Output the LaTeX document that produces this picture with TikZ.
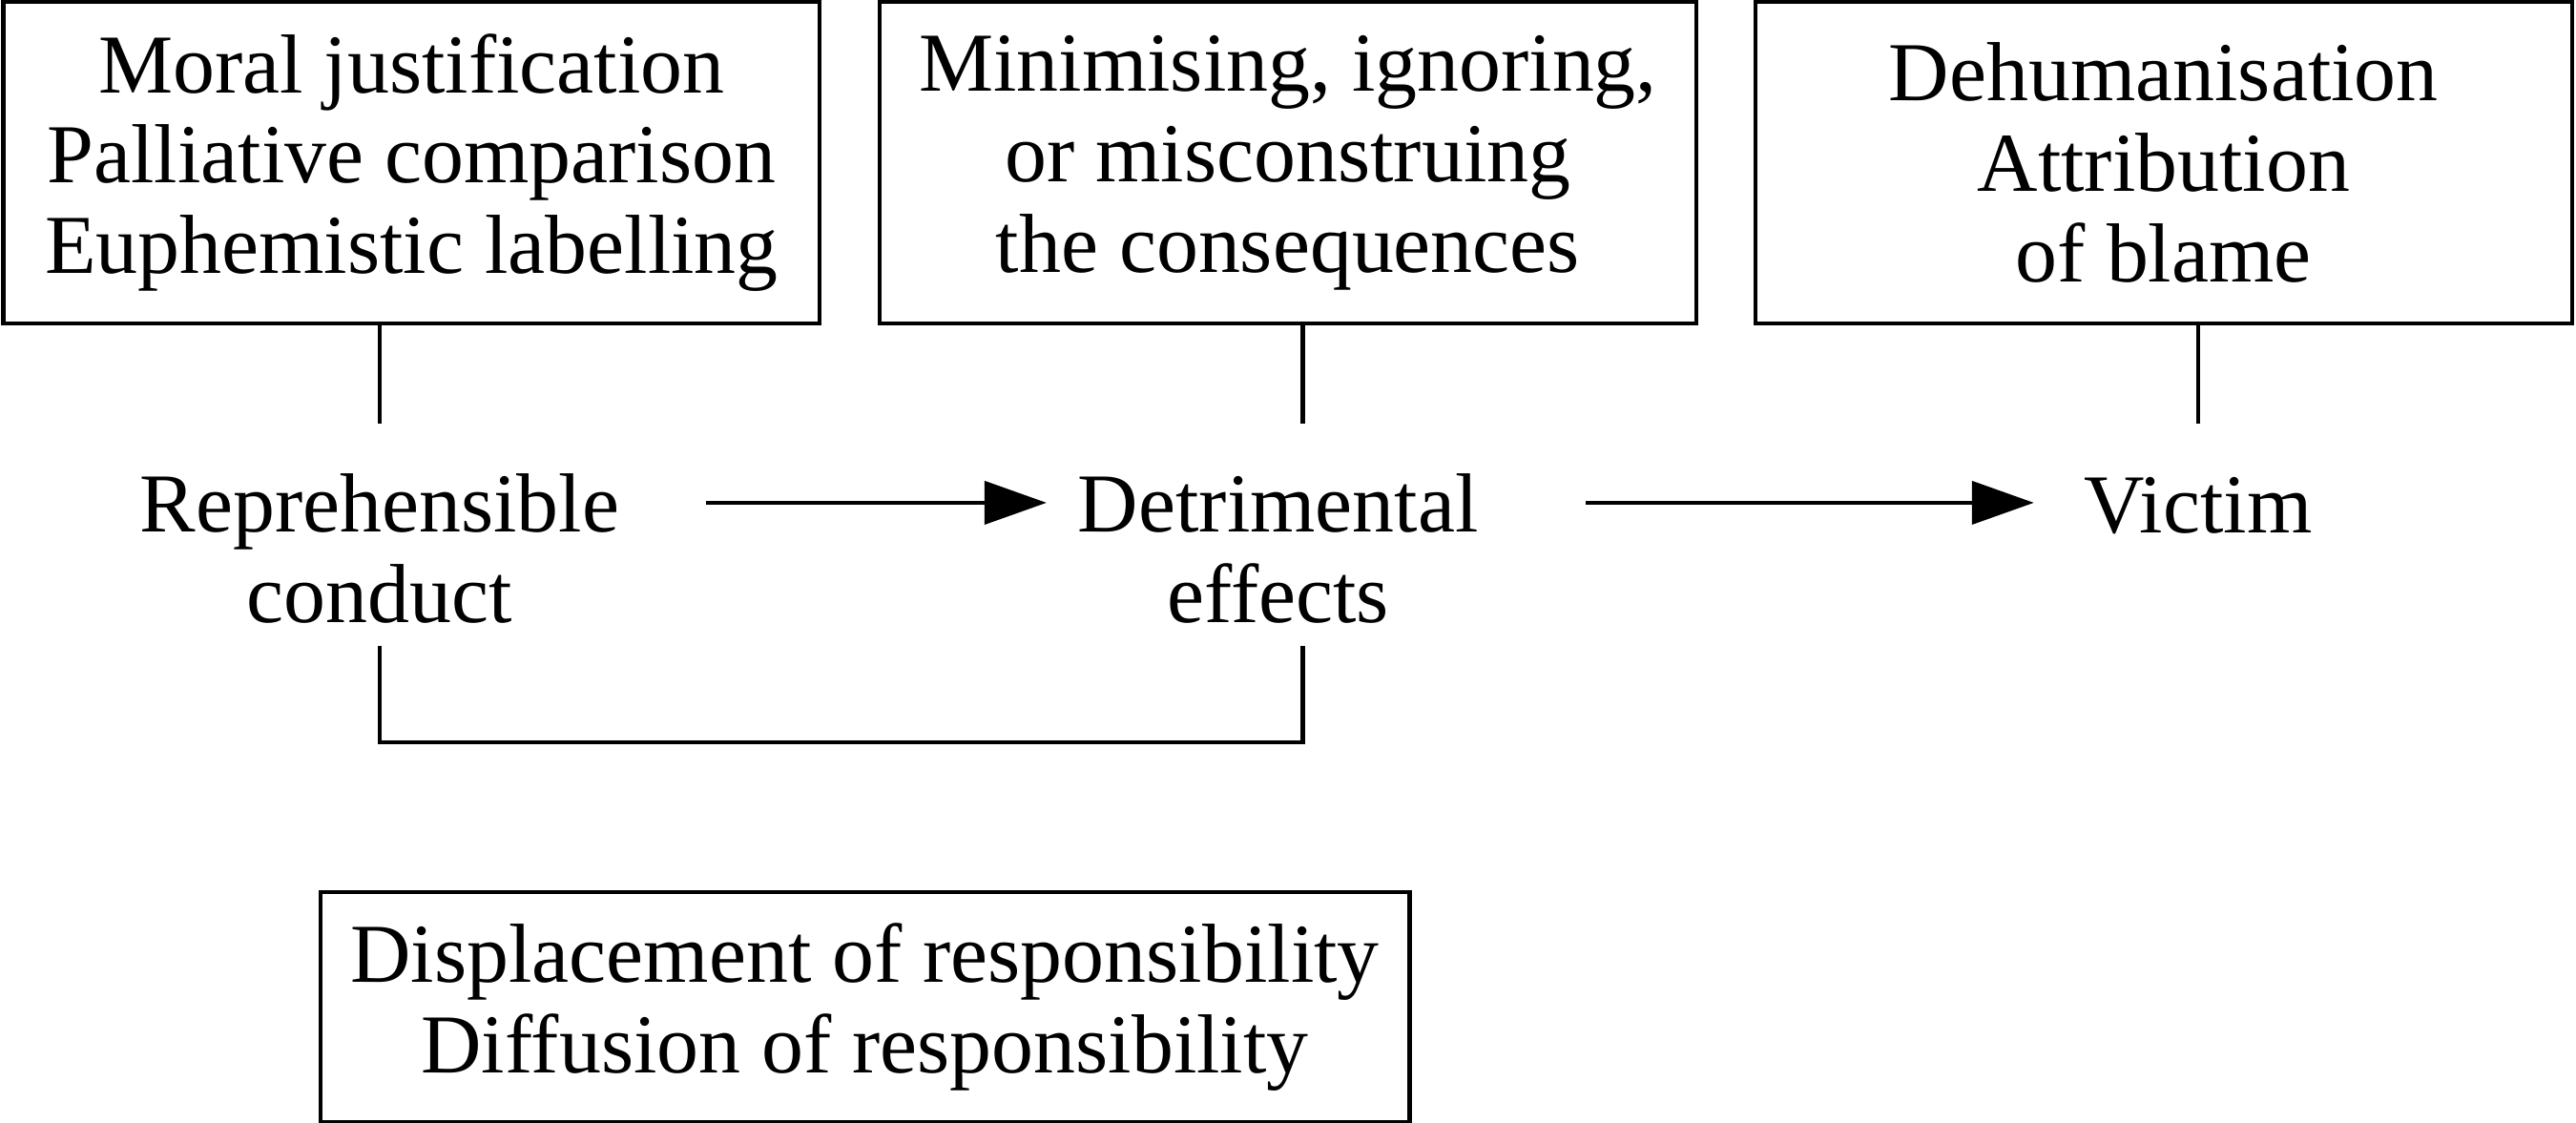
\documentclass[tikz,border=0pt]{standalone}
\usepackage{fontspec}
\setmainfont{Liberation Serif}
\usetikzlibrary{arrows.meta}
\tikzset{
  mechbox/.style={draw, line width=1.2pt, minimum width=497\px, minimum height=196\px, align=center, inner sep=0pt},
  stage/.style={align=center, inner sep=0pt},
  link/.style={line width=1.2pt},
  flow/.style={line width=1.2pt, -{Triangle[length=0.65cm, width=0.45cm]}}
}
\newlength{\px}
\setlength{\px}{0.01722cm}
\begin{document}
\begin{tikzpicture}[x=0.01722cm, y=-0.01722cm, font=\fontsize{25}{27}\selectfont]
  \useasboundingbox (0,0) rectangle (1568,683);
  % boxes of mechanisms
  \node[mechbox] (justify) at (250.5,99) {Moral justification\\Palliative comparison\\Euphemistic labelling};
  \node[mechbox] (minimise) at (784,99) {Minimising, ignoring,\\or misconstruing\\the consequences};
  \node[mechbox] (dehuman) at (1317,99) {Dehumanisation\\Attribution\\of blame};
  \node[mechbox, minimum width=663\px, minimum height=140\px] (displace) at (526.5,613) {Displacement of responsibility\\Diffusion of responsibility};
  % stages
  \node[stage] (conduct) at (231,334) {Reprehensible\\conduct};
  \node[stage] (effects) at (778,334) {Detrimental\\effects};
  \node[stage] (victim) at (1338,308) {Victim};
  \coordinate (c1) at (231,258);
  \coordinate (c2) at (793,258);
  \coordinate (c3) at (1338,258);
  \coordinate (b1) at (231,393);
  \coordinate (b2) at (793,393);
  \draw[link] (justify.south -| c1) -- (c1);
  \draw[link] (minimise.south -| c2) -- (c2);
  \draw[link] (dehuman.south -| c3) -- (c3);
  \draw[flow] (430,306) -- (637,306);
  \draw[flow] (965,306) -- (1238,306);
  \draw[link] (b1) -- (231,452) -- (793,452) -- (b2);
\end{tikzpicture}
\end{document}
